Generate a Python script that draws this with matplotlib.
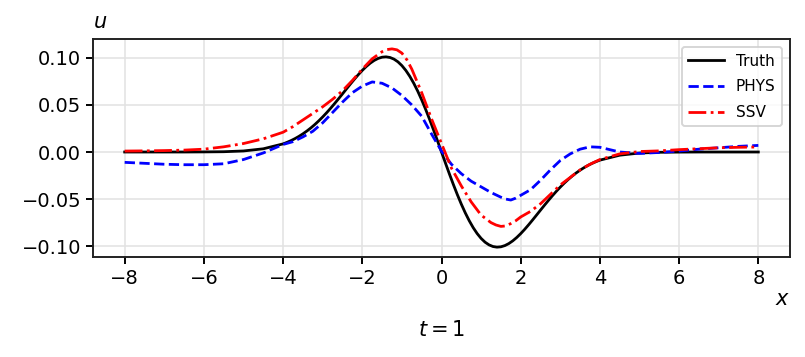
import matplotlib
matplotlib.use("Agg")
import matplotlib.pyplot as plt
import numpy as np

# ---- Truth: samples ----
truth_x = ([-8, -7.5, -7, -6.5, -6, -5.5, -5, -4.5]
           + list(np.round(np.arange(-40, 41) / 10, 1))
           + [4.5, 5, 5.5, 6, 6.5, 7, 7.5, 8])
truth_pos = [0.01175, 0.02333, 0.03455, 0.04527, 0.05533, 0.06460, 0.07295, 0.08031, 0.08659, 0.09174,
             0.09576, 0.09862, 0.10037, 0.10104, 0.10068, 0.09938, 0.09723, 0.09433, 0.09077, 0.08667,
             0.08215, 0.07728, 0.07220, 0.06698, 0.06173, 0.05651, 0.05141, 0.04646, 0.04173, 0.03725,
             0.03305, 0.02914, 0.02554, 0.02226, 0.01928, 0.01661, 0.01422, 0.01211, 0.01025, 0.00863]
truth_tail = [0.0034, 0.0011, 0.0003, 0.0001, 0.0, 0.0, 0.0, 0.0]
# u is positive for x<0 and negative for x>0
truth = ([v for v in truth_tail[::-1]]
         + [v for v in truth_pos[::-1]] + [0.0] + [-v for v in truth_pos]
         + [-v for v in truth_tail])

# ---- PHYS ----
phys_x = [-8, -7.5, -7, -6.5, -6, -5.5, -5, -4.5, -4,
          -3.75, -3.5, -3.25, -3, -2.75, -2.5, -2.25, -2, -1.75, -1.5, -1.25, -1, -0.75, -0.5, -0.25,
          0, 0.25, 0.5, 0.75, 1, 1.25, 1.5, 1.625, 1.75, 1.875, 2, 2.25, 2.5, 2.75, 3, 3.25, 3.5, 3.75,
          4, 4.5, 5, 5.5, 6, 6.5, 7, 7.5, 8]
phys = [-0.011, -0.012, -0.013, -0.0135, -0.0135, -0.0125, -0.008, -0.001, 0.008,
        0.011, 0.016, 0.022, 0.031, 0.042, 0.053, 0.063, 0.070, 0.0744, 0.073, 0.068, 0.060, 0.050, 0.038, 0.019,
        0.001, -0.013, -0.023, -0.031, -0.037, -0.043, -0.048, -0.050, -0.051, -0.049, -0.046, -0.040, -0.030, -0.019,
        -0.009, -0.002, 0.003, 0.0055,
        0.005, 0.0, -0.0015, -0.0005, 0.001, 0.003, 0.0045, 0.006, 0.007]

# ---- SSV ----
ssv_x = [-8, -7.5, -7, -6.5, -6, -5.5, -5, -4.5, -4,
         -3.75, -3.5, -3.25, -3, -2.75, -2.5, -2.25, -2, -1.75, -1.5, -1.375, -1.25, -1.125, -1, -0.875,
         -0.75, -0.5, -0.25, 0, 0.25, 0.5, 0.75, 1, 1.25, 1.375, 1.5, 1.625, 1.75, 1.875, 2, 2.25, 2.5, 2.75,
         3, 3.25, 3.5, 3.75, 4, 4.5, 5, 5.5, 6, 6.5, 7, 7.5, 8]
ssv = [0.001, 0.0012, 0.0015, 0.002, 0.003, 0.0055, 0.009, 0.014, 0.021,
       0.027, 0.034, 0.041, 0.048, 0.056, 0.065, 0.076, 0.088, 0.099, 0.1065, 0.1088, 0.1095, 0.1085, 0.105, 0.098,
       0.088, 0.063, 0.035, 0.009, -0.017, -0.036, -0.053, -0.067, -0.075, -0.0775, -0.079, -0.0785, -0.076, -0.073,
       -0.069, -0.063, -0.055, -0.045,
       -0.035, -0.027, -0.019, -0.013, -0.008, -0.002, 0.0005, 0.0012, 0.0025, 0.0035, 0.0045, 0.005, 0.0053]

labels = ["Truth", "PHYS", "SSV"]
xticks = [-8, -6, -4, -2, 0, 2, 4, 6, 8]
yticks = [-0.10, -0.05, 0.00, 0.05, 0.10]

fig = plt.figure(figsize=(8.05, 3.57), dpi=100)
ax = fig.add_axes([93 / 805, 1 - 257 / 357, (790 - 93) / 805, (257 - 39) / 357])

lw = 2.0
ax.plot(truth_x, truth, color="black", lw=lw, ls="-", label=labels[0])
ax.plot(phys_x, phys, color="blue", lw=lw, ls="--", label=labels[1])
ax.plot(ssv_x, ssv, color="red", lw=lw, ls="-.", label=labels[2])

ax.set_xlim(-8.8, 8.8)
ax.set_ylim(-0.1115, 0.1200)
ax.set_xticks(xticks)
ax.set_yticks(yticks)
ax.set_yticklabels([f"{v:.2f}".replace("-", "\u2212") for v in yticks])
ax.tick_params(labelsize=14, length=5, width=1.4, direction="out")
for s in ax.spines.values():
    s.set_linewidth(1.4)
    s.set_color("#222222")
ax.grid(True, color="#e2e2e2", lw=1.1)
ax.set_axisbelow(True)

leg = ax.legend(loc="upper right", fontsize=11, handlelength=2.3, labelspacing=0.7,
                frameon=True, fancybox=True, borderaxespad=0.55)
leg.get_frame().set_edgecolor("#cccccc")
leg.get_frame().set_linewidth(1.4)

fig.text(100 / 805, 1 - 22 / 357, r"$u$", fontsize=15, ha="center", va="center")
fig.text(783 / 805, 1 - 299 / 357, r"$x$", fontsize=15, ha="center", va="center")
fig.text(442 / 805, 1 - 330 / 357, r"$t = 1$", fontsize=15, ha="center", va="center")

fig.savefig("out.png", dpi=100)
